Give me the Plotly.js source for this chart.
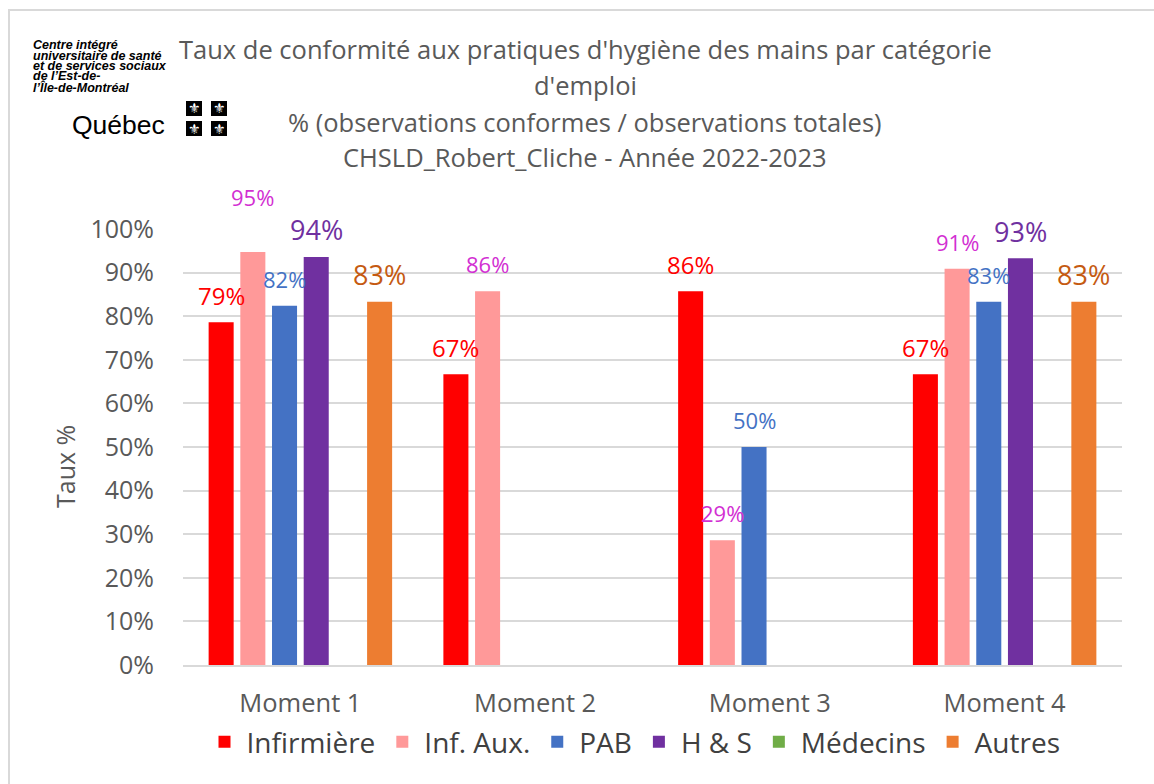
<!DOCTYPE html>
<html>
<head>
<meta charset="utf-8">
<script src="https://cdn.plot.ly/plotly-3.0.1.min.js"></script>
<style>
  html, body { margin: 0; padding: 0; background: #ffffff; }
  #chart { width: 1154px; height: 784px; }
</style>
</head>
<body>
<div id="chart"></div>
<script>
// ---- Data ----
const categories = ["Moment 1", "Moment 2", "Moment 3", "Moment 4"];
const seriesNames = ["Infirmière", "Inf. Aux.", "PAB", "H & S", "Médecins", "Autres"];
const infirmiere = [78.6, 66.7, 85.7, 66.7];
const infAux     = [94.7, 85.7, 28.6, 90.9];
const pab        = [82.4, null, 50.0, 83.3];
const hs         = [93.6, null, null, 93.3];
const medecins   = [null, null, null, null];
const autres     = [83.3, null, null, 83.3];
const seriesValues = [infirmiere, infAux, pab, hs, medecins, autres];
const yTickVals = [0, 10, 20, 30, 40, 50, 60, 70, 80, 90, 100];
const yAxisTitle = "Taux %";
const titleLines = [
  "Taux de conformité aux pratiques d'hygiène des mains par catégorie",
  "d'emploi",
  "% (observations conformes / observations totales)",
  "CHSLD_Robert_Cliche - Année 2022-2023"
];
const logoLines = [
  "Centre intégré",
  "universitaire de santé",
  "et de services sociaux",
  "de l’Est-de-",
  "l’Île-de-Montréal"
];

// ---- Styles ----
const barColors   = ["#ff0000", "#ff9999", "#4472c4", "#7030a0", "#70ad47", "#ed7d31"];
const labelColors = ["#ff0000", "#d22fd2", "#4472c4", "#7030a0", "#70ad47", "#c55a11"];
const labelSizes  = [24, 22, 22, 27, 24, 27];
const FONT = "'Open Sans', 'Noto Sans', sans-serif";
const GRAY = "#595959";

const L = 183, R = 32, T = 229, B = 119, W = 1154, H = 784;
const plotW = W - L - R, plotH = H - T - B;
const px2x = p => (p - L) / plotW;
const py2y = p => (H - B - p) / plotH;

const BARGAP = 0.19;
const nSeries = seriesNames.length;
const slot = (1 - BARGAP) / nSeries;

const traces = seriesNames.map((name, i) => ({
  type: "bar",
  name: name,
  x: categories,
  y: seriesValues[i],
  marker: { color: barColors[i], line: { width: 0 } },
  hoverinfo: "name+y"
}));

const annotations = [];
// data labels
seriesValues.forEach((vals, i) => {
  vals.forEach((v, j) => {
    if (v === null) return;
    let lift = 27;
    if (i === 1 && j === 0) lift = 55;
    annotations.push({
      xref: "x", yref: "y",
      x: j + (i - (nSeries - 1) / 2) * slot,
      y: v,
      text: Math.round(v) + "%",
      showarrow: false,
      yanchor: "middle",
      yshift: lift,
      font: { family: FONT, size: labelSizes[i], color: labelColors[i] }
    });
  });
});
// title lines
const titleY = [49, 85, 122, 157];
titleLines.forEach((t, k) => {
  annotations.push({
    xref: "paper", yref: "paper",
    x: px2x(585), y: py2y(titleY[k]),
    text: t, showarrow: false,
    xanchor: "center", yanchor: "middle",
    font: { family: FONT, size: 25.5, color: GRAY }
  });
});
// y axis title
annotations.push({
  xref: "paper", yref: "paper",
  x: px2x(65), y: py2y(467),
  text: yAxisTitle, showarrow: false, textangle: -90,
  xanchor: "center", yanchor: "middle",
  font: { family: FONT, size: 25, color: GRAY }
});
// logo text lines
const logoY = [45, 55.5, 66, 76.5, 87];
logoLines.forEach((t, k) => {
  annotations.push({
    xref: "paper", yref: "paper",
    x: px2x(32), y: py2y(logoY[k]),
    text: "<b><i>" + t + "</i></b>", showarrow: false,
    xanchor: "left", yanchor: "middle", borderpad: 0,
    font: { family: "'Liberation Sans', Arial, sans-serif", size: 12.5, color: "#000000" }
  });
});
annotations.push({
  xref: "paper", yref: "paper",
  x: px2x(70), y: py2y(125),
  text: "Québec", showarrow: false,
  xanchor: "left", yanchor: "middle",
  font: { family: "'Liberation Sans', Arial, sans-serif", size: 26.5, color: "#000000" }
});
// flag squares
const shapes = [];
const flagBoxes = [[186, 101], [211, 101], [186, 121], [211, 121]];
flagBoxes.forEach(([fx, fy]) => {
  shapes.push({
    type: "rect", xref: "paper", yref: "paper",
    x0: px2x(fx), x1: px2x(fx + 16), y0: py2y(fy), y1: py2y(fy + 15),
    fillcolor: "#000000", line: { width: 0 }, layer: "above"
  });
  annotations.push({
    xref: "paper", yref: "paper",
    x: px2x(fx + 8), y: py2y(fy + 7.5),
    text: "⚜", showarrow: false,
    xanchor: "center", yanchor: "middle",
    font: { family: "'DejaVu Sans', sans-serif", size: 14, color: "#ffffff" }
  });
});
// outer frame
shapes.push({
  type: "rect", xref: "paper", yref: "paper",
  x0: px2x(9), x1: px2x(1170), y0: py2y(10), y1: py2y(800),
  line: { color: "#d9d9d9", width: 2 }, fillcolor: "rgba(0,0,0,0)", layer: "below"
});

const layout = {
  width: W, height: H,
  margin: { l: L, r: R, t: T, b: B, pad: 0 },
  paper_bgcolor: "#ffffff",
  plot_bgcolor: "#ffffff",
  font: { family: FONT, color: GRAY },
  barmode: "group",
  bargap: BARGAP,
  bargroupgap: 0.21,
  showlegend: true,
  legend: {
    orientation: "h",
    x: px2x(634), xanchor: "center",
    y: py2y(742), yanchor: "middle",
    font: { family: FONT, size: 28, color: "#404040" },
    itemwidth: 34,
    traceorder: "normal",
    itemclick: false
  },
  xaxis: {
    type: "category",
    tickfont: { family: FONT, size: 25.5, color: GRAY },
    showline: true, linecolor: "#d9d9d9", linewidth: 1.5,
    ticks: "", ticklabelstandoff: 15,
    showgrid: false, zeroline: false,
    fixedrange: true
  },
  yaxis: {
    range: [0, 100],
    tickvals: yTickVals,
    ticktext: yTickVals.map(v => v + "%"),
    tickfont: { family: FONT, size: 25, color: GRAY },
    showgrid: true, gridcolor: "#d9d9d9", gridwidth: 1.5,
    zeroline: false, showline: false,
    ticks: "", ticklabelstandoff: 28,
    fixedrange: true
  },
  annotations: annotations,
  shapes: shapes
};

Plotly.newPlot("chart", traces, layout, { displayModeBar: false, staticPlot: false });
</script>
</body>
</html>
